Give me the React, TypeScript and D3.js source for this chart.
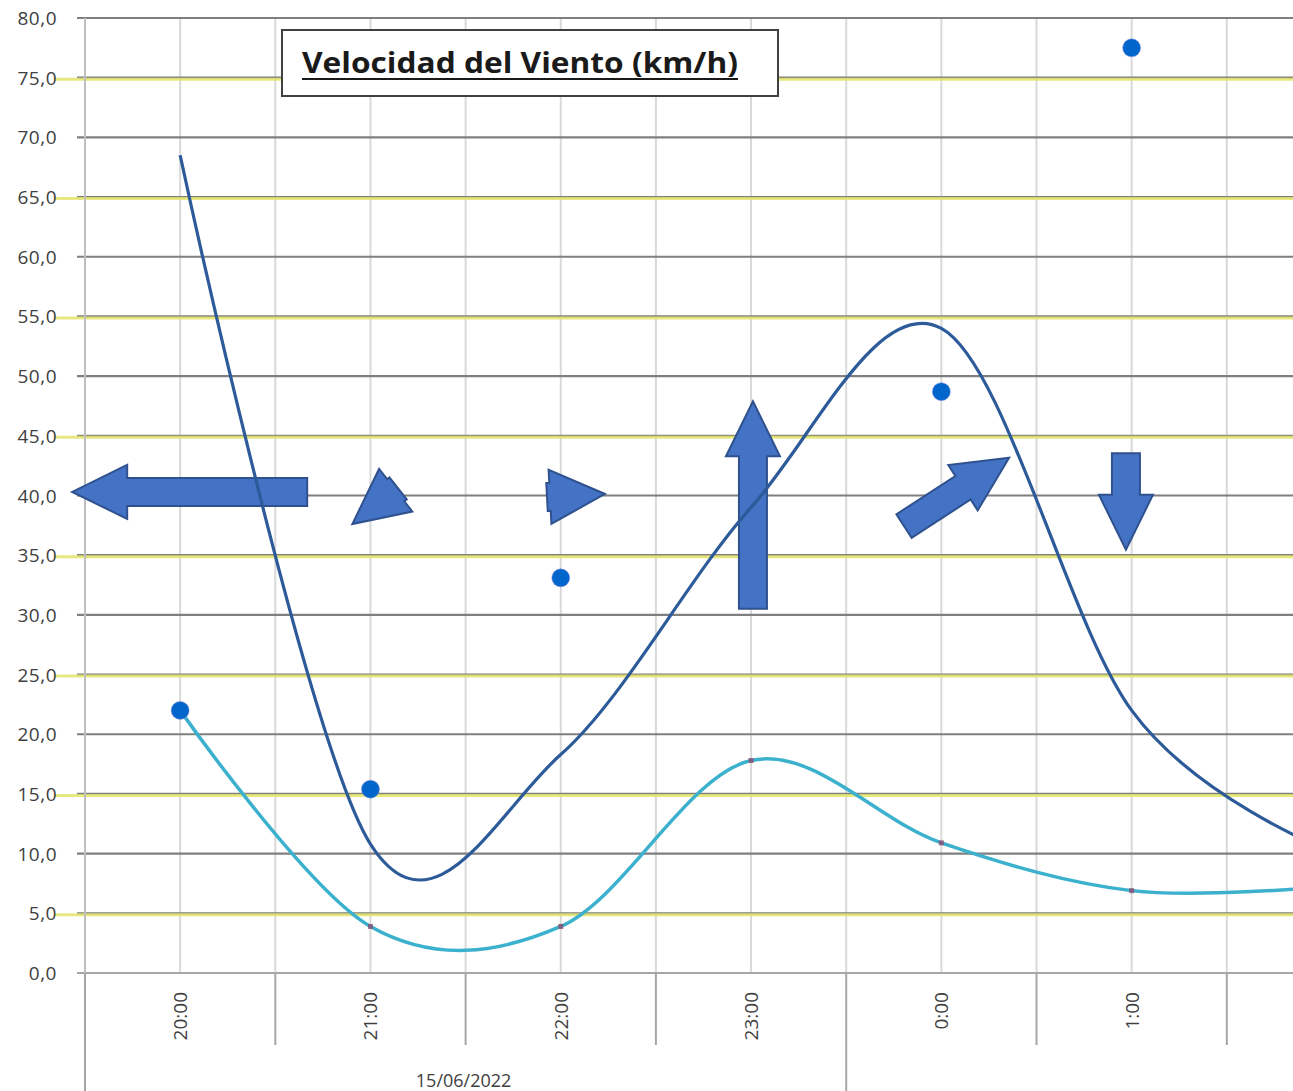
import React from "react";
import * as d3 from "d3";

const categorias = ["20:00", "21:00", "22:00", "23:00", "0:00", "1:00", "2:00"];
const velMedia = [22.0, 3.9, 3.9, 17.8, 10.9, 6.9, 7.2];
const tendencia = [68.5, 10.8, 18.3, 39.0, 54.0, 22.0, 10.5];
const rachaMax: (number | null)[] = [22.0, 15.4, 33.1, null, 48.7, 77.5, null];
const flechaAngulo: (number | null)[] = [180, 142, -3, -90, -33, 90, null];
// anchor of each direction arrow: shift within the hour (fraction of an hour) and level (km/h)
const flechaDesfase = [0.05, 0.025, 0.08, 0.01, 0.08, -0.03, 0];
const flechaNivel = [40.3, 39.1, 40.0, 39.2, 40.3, 39.5, 40];
const yTicks = d3.range(0, 85, 5);
const fecha = "15/06/2022";
const titulo = "Velocidad del Viento (km/h)";

const FONT = "'Open Sans', 'Noto Sans', sans-serif";

export default function App() {
  const W = 1293;
  const H = 1091;
  const left = 85;
  const band = 190.3;
  const x = d3
    .scaleBand<string>()
    .domain(categorias)
    .range([left, left + band * categorias.length])
    .padding(0);
  const bw = x.bandwidth();
  const cx = (c: string) => (x(c) as number) + bw / 2;
  const y = d3.scaleLinear().domain([0, 80]).range([973, 18]);
  const fmt = (v: number) => d3.format(".1f")(v).replace(".", ",");

  const lineGen = d3
    .line<number>()
    .x((_, i) => cx(categorias[i]))
    .y((d) => y(d))
    .curve(d3.curveCardinal.tension(0));

  const lenScale = d3.scaleLinear().domain([4, 7, 11, 18, 22]).range([58, 98, 126, 210, 235]).clamp(true);

  const arrowPath = (L: number) => {
    const hl = 55, hw = 27, sw = 14;
    const shaft = Math.max(L - hl, 3);
    const tot = shaft + hl;
    const a = -tot / 2;
    const b = a + shaft;
    const t = tot / 2;
    return `M${a},${-sw}L${b},${-sw}L${b},${-hw}L${t},0L${b},${hw}L${b},${sw}L${a},${sw}Z`;
  };

  const vGrid: number[] = [];
  categorias.forEach((c) => {
    vGrid.push(x(c) as number);
    vGrid.push(cx(c));
  });

  const yTop = y(80);
  const yBot = y(0);

  return (
    <svg
      width={W}
      height={H}
      style={{ position: "absolute", left: 0, top: 0, background: "#fff" }}
    >
      <rect x={0} y={0} width={W} height={H} fill="#fff" />
      {vGrid.map((gx, i) => (
        <line key={"vg" + i} x1={gx} x2={gx} y1={yTop} y2={yBot} stroke="#d9d9d9" strokeWidth={2} />
      ))}
      {yTicks.map((v) => (
        <line
          key={"hg" + v}
          x1={77}
          x2={W}
          y1={y(v)}
          y2={y(v)}
          stroke={v === 0 ? "#a6a6a6" : "#7f7f7f"}
          strokeWidth={2.2}
        />
      ))}
      {yTicks
        .filter((v) => v % 10 === 5)
        .map((v) => (
          <line
            key={"yl" + v}
            x1={55}
            x2={W}
            y1={y(v) + 1.5}
            y2={y(v) + 1.5}
            stroke="#e4e46a"
            strokeOpacity={0.85}
            strokeWidth={3}
          />
        ))}
      <line x1={left} x2={left} y1={yTop} y2={H} stroke="#bfbfbf" strokeWidth={2} />
      {categorias.map((c, i) => (
        <line
          key={"tk" + i}
          x1={x(c) as number}
          x2={x(c) as number}
          y1={yBot}
          y2={i === 0 || c === "0:00" ? H : 1045}
          stroke="#a6a6a6"
          strokeWidth={2}
        />
      ))}
      {yTicks.map((v) => (
        <text
          key={"yt" + v}
          x={57}
          y={y(v)}
          textAnchor="end"
          dominantBaseline="central"
          fontFamily={FONT}
          fontSize={19}
          fill="#404040"
          letterSpacing={0.5}
        >
          {fmt(v)}
        </text>
      ))}
      {categorias
        .filter((c) => cx(c) < W - 20)
        .map((c) => (
          <text
            key={"xt" + c}
            transform={`translate(${cx(c)},${992}) rotate(-90)`}
            textAnchor="end"
            dominantBaseline="central"
            fontFamily={FONT}
            fontSize={19}
            fill="#404040"
          >
            {c}
          </text>
        ))}
      <text
        x={left + 2 * band - 2}
        y={1087}
        textAnchor="middle"
        fontFamily={FONT}
        fontSize={18}
        fill="#404040"
      >
        {fecha}
      </text>

      {flechaAngulo.map((ang, i) =>
        ang === null ? null : (
          <path
            key={"ar" + i}
            d={arrowPath(lenScale(velMedia[i]))}
            transform={`translate(${cx(categorias[i]) + flechaDesfase[i] * bw},${y(flechaNivel[i])}) rotate(${ang})`}
            fill="#4472c4"
            stroke="#2f528f"
            strokeWidth={2}
            strokeLinejoin="miter"
          />
        )
      )}

      <path d={lineGen(tendencia) || ""} fill="none" stroke="#2d5a99" strokeWidth={3.2} />
      <path d={lineGen(velMedia) || ""} fill="none" stroke="#3cb1cd" strokeWidth={3.5} />

      {velMedia.map((v, i) => (
        <rect
          key={"mk" + i}
          x={cx(categorias[i]) - 2.5}
          y={y(v) - 2.5}
          width={5}
          height={5}
          fill="#8a4d72"
          opacity={0.8}
        />
      ))}

      {rachaMax.map((v, i) =>
        v === null ? null : (
          <circle
            key={"rd" + i}
            cx={cx(categorias[i])}
            cy={y(v)}
            r={9}
            fill="#0066cc"
            stroke="#8f8fd8"
            strokeOpacity={0.5}
            strokeWidth={1}
          />
        )
      )}

      <rect x={282} y={30} width={496} height={66} fill="#fff" stroke="#404040" strokeWidth={2} />
      <text
        x={302}
        y={73}
        fontFamily={FONT}
        fontWeight="bold"
        fontSize={29}
        fill="#1a1a1a"
        textLength={436}
        lengthAdjust="spacingAndGlyphs"
      >
        {titulo}
      </text>
      <line x1={302} x2={738} y1={79} y2={79} stroke="#1a1a1a" strokeWidth={2} />
    </svg>
  );
}
